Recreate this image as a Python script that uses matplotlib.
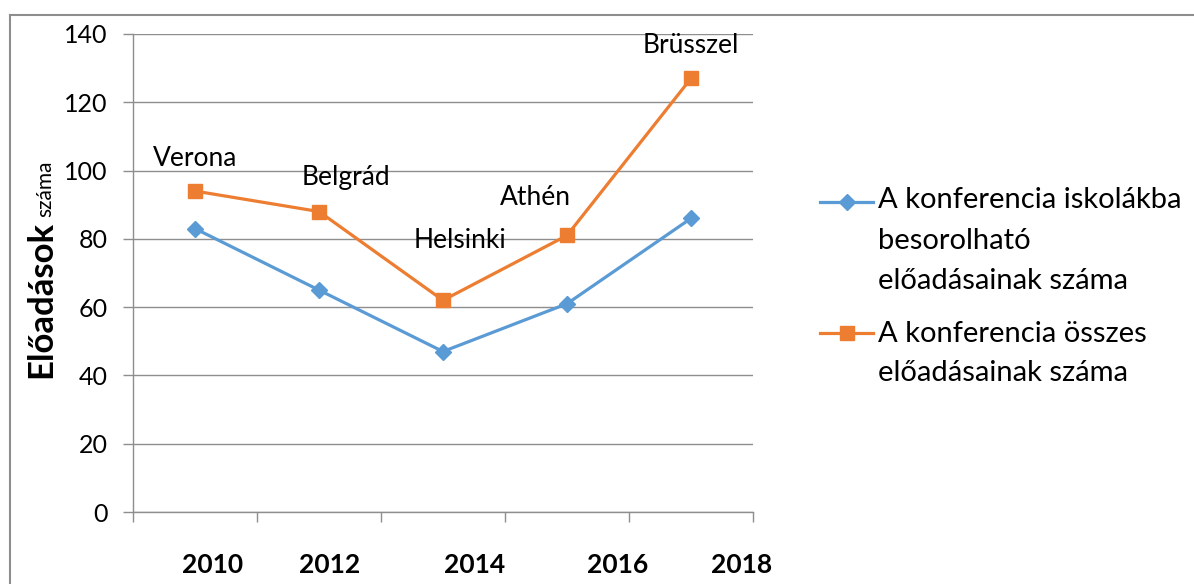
import matplotlib
matplotlib.use("Agg")
import matplotlib.pyplot as plt
import numpy as np
from matplotlib.lines import Line2D


YEARS = ["2010", "2012", "2014", "2016", "2018"]
CITIES = ["Verona", "Belgrád", "Helsinki", "Athén", "Brüsszel"]
SCHOOL_TALKS = [83, 65, 47, 61, 86]
ALL_TALKS = [94, 88, 62, 81, 127]
SERIES_LABELS = [
	"A konferencia iskolákba\nbesorolható\nelőadásainak száma",
	"A konferencia összes\nelőadásainak száma",
]
Y_TICKS = [0, 20, 40, 60, 80, 100, 120, 140]

BLUE = "#5B9BD5"
ORANGE = "#ED7D31"
GRID = "#8E8E8E"
W, H = 1194, 584

# label nudges in pixels, taken from the reference layout
CITY_OFFSETS = [(0, 33), (27, 34), (17, 60), (-32, 38), (0, 33)]
YEAR_SHIFT = [18, 11, 32, 51, 51]


def px(x, y):
	"""Pixel position (from top-left) to figure fraction."""
	return x / W, 1 - y / H


def main() -> None:
	plt.rcParams["font.family"] = ["Lato", "DejaVu Sans"]
	fig = plt.figure(figsize=(W / 100, H / 100), dpi=100)
	ax = fig.add_axes([133 / W, 1 - 512 / H, 620 / W, 478 / H])

	x = np.arange(len(YEARS))
	ax.plot(x, SCHOOL_TALKS, color=BLUE, lw=2.3, marker="D", ms=8, zorder=3)
	ax.plot(x, ALL_TALKS, color=ORANGE, lw=2.3, marker="s", ms=10.5, zorder=3)

	ax.set_xlim(-0.5, len(YEARS) - 0.5)
	ax.set_ylim(0, 140)
	ax.set_yticks(Y_TICKS)
	ax.set_xticks(np.arange(len(YEARS) + 1) - 0.5)
	ax.set_xticklabels([])
	ax.tick_params(axis="y", length=7.2, width=1, color=GRID, labelsize=18, pad=11)
	ax.tick_params(axis="x", length=7.2, width=1, color=GRID)
	ax.yaxis.grid(True, color=GRID, lw=1)
	ax.set_axisbelow(True)
	for side in ("top", "right"):
		ax.spines[side].set_visible(False)
	for side in ("left", "bottom"):
		ax.spines[side].set_color(GRID)
		ax.spines[side].set_linewidth(1)

	for i, (city, val) in enumerate(zip(CITIES, ALL_TALKS)):
		dx, dy = CITY_OFFSETS[i]
		ax.annotate(city, (x[i], val), xytext=(dx * 0.72, dy * 0.72),
			textcoords="offset points", ha="center", va="center", fontsize=19)

	for i, year in enumerate(YEARS):
		ax.annotate(year, (x[i], 0), xycoords=("data", "axes fraction"),
			xytext=(YEAR_SHIFT[i] * 0.72, -53 * 0.72), textcoords="offset points",
			ha="center", va="center", fontsize=19, fontweight="bold")

	# y label: bold first word, smaller regular second word
	bold = fig.text(*px(51, 378), "Előadások", rotation=90, rotation_mode="anchor",
		ha="left", va="baseline", fontsize=25, fontweight="bold")
	fig.canvas.draw()
	ext = bold.get_window_extent()
	fig.text(51 / W, (ext.y1 + 4) / H, "száma", rotation=90, rotation_mode="anchor",
		ha="left", va="baseline", fontsize=15)

	# legend drawn by hand to match the multi-line layout
	legend_rows = [(202, [208, 249, 289]), (333, [342, 381])]
	for (line_y, baselines), label, color, marker, ms in zip(
		legend_rows, SERIES_LABELS, [BLUE, ORANGE], ["D", "s"], [8, 10.5]
	):
		fig.add_artist(Line2D([820 / W, 873 / W], [1 - line_y / H] * 2,
			transform=fig.transFigure, color=color, lw=2.3))
		fig.add_artist(Line2D([847 / W], [1 - line_y / H], transform=fig.transFigure,
			color=color, marker=marker, ms=ms, lw=0))
		for text_line, base in zip(label.split("\n"), baselines):
			fig.text(*px(878, base), text_line, ha="left", va="baseline", fontsize=21)

	# chart frame (top and left edges visible in the reference)
	fig.add_artist(Line2D([10 / W, 1], [1 - 15 / H] * 2, transform=fig.transFigure,
		color=GRID, lw=1.5))
	fig.add_artist(Line2D([10 / W] * 2, [0, 1 - 15 / H], transform=fig.transFigure,
		color=GRID, lw=1.5))

	fig.savefig("out.png", dpi=100)


if __name__ == "__main__":
	main()
